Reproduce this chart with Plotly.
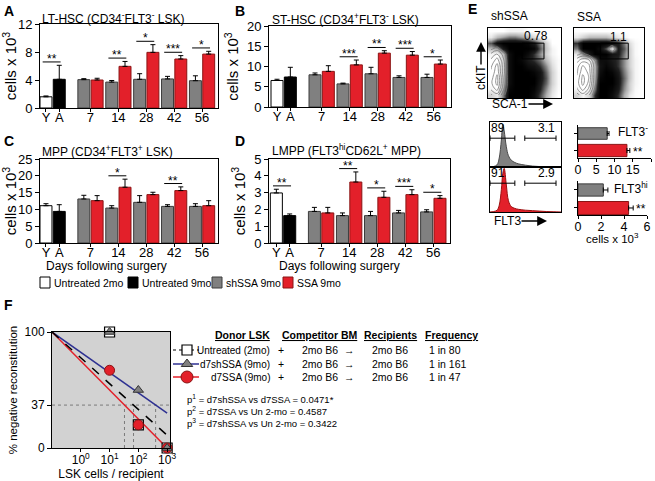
import plotly.graph_objects as go

W, H = 655, 481

# ---------------- data ----------------
ctrl_labels = ["Y", "A"]
day_labels = ["7", "14", "28", "42", "56"]

# A: LT-HSC
lt_ctrl = [1.6, 4.1]
lt_ctrl_err = [0.12, 2.0]
lt_sh = [4.05, 3.7, 4.1, 4.15, 3.9]
lt_sh_err = [0.14, 0.23, 0.8, 0.37, 0.7]
lt_ssa = [4.0, 5.95, 7.95, 7.0, 7.7]
lt_ssa_err = [0.25, 0.7, 1.1, 0.48, 0.4]
lt_stars = ["**", "**", "*", "***", "*"]
lt_star_pairs = ["YA", "14", "28", "42", "56"]

# B: ST-HSC
st_ctrl = [6.55, 7.4]
st_ctrl_err = [0.3, 2.4]
st_sh = [7.95, 5.7, 8.2, 7.3, 7.3]
st_sh_err = [0.45, 0.2, 1.6, 0.4, 0.8]
st_ssa = [8.8, 10.4, 13.3, 12.8, 10.6]
st_ssa_err = [1.4, 1.2, 0.6, 0.9, 1.0]
st_stars = ["***", "**", "***", "*"]
st_star_pairs = ["14", "28", "42", "56"]

# C: MPP
mpp_ctrl = [11.1, 9.4]
mpp_ctrl_err = [0.6, 2.0]
mpp_sh = [13.1, 10.4, 12.1, 10.9, 10.9]
mpp_sh_err = [1.1, 0.7, 2.0, 0.5, 0.8]
mpp_ssa = [12.6, 16.6, 14.4, 15.6, 11.1]
mpp_ssa_err = [1.5, 2.4, 0.7, 1.1, 1.5]
mpp_stars = ["*", "**"]
mpp_star_pairs = ["14", "42"]

# D: LMPP
lmpp_ctrl = [2.98, 1.63]
lmpp_ctrl_err = [0.22, 0.1]
lmpp_sh = [1.88, 1.63, 1.63, 1.79, 1.85]
lmpp_sh_err = [0.24, 0.16, 0.25, 0.15, 0.13]
lmpp_ssa = [1.79, 3.63, 2.72, 2.88, 2.66]
lmpp_ssa_err = [0.33, 0.6, 0.36, 0.29, 0.16]
lmpp_stars = ["**", "**", "*", "***", "*"]
lmpp_star_pairs = ["YA", "14", "28", "42", "56"]

# E: flow density of outlier dots (rows listed top -> bottom, columns left -> right)
shssa_density = [
    [0, 0, 0, 0.05, 0.05, 0.05, 0, 0, 0, 0, 0, 0],
    [0.1, 0.3, 0.4, 0.5, 0.5, 0.4, 0.3, 0.15, 0.05, 0, 0, 0],
    [0.6, 0.9, 1, 1, 1, 1, 0.95, 0.8, 0.5, 0.2, 0, 0],
    [0.3, 0.4, 0.8, 1, 1, 1, 1, 0.95, 0.6, 0.25, 0.05, 0],
    [0.05, 0, 0.3, 0.9, 1, 1, 0.9, 0.7, 0.45, 0.2, 0.05, 0],
    [0, 0, 0.2, 0.9, 1, 0.95, 0.8, 0.7, 0.55, 0.3, 0.1, 0.02],
    [0, 0, 0.2, 0.9, 1, 1, 0.9, 0.85, 0.7, 0.45, 0.15, 0.02],
    [0, 0, 0.2, 0.9, 1, 1, 1, 0.95, 0.85, 0.55, 0.2, 0.03],
    [0, 0, 0.25, 0.9, 1, 1, 1, 1, 0.85, 0.6, 0.2, 0.03],
    [0, 0, 0.3, 0.9, 1, 1, 1, 1, 0.8, 0.55, 0.2, 0.03],
    [0.05, 0, 0.4, 0.95, 1, 1, 1, 0.95, 0.75, 0.45, 0.15, 0.02],
    [0.2, 0.1, 0.5, 1, 1, 1, 1, 0.9, 0.65, 0.35, 0.1, 0],
]
ssa_density = [
    [0, 0, 0, 0, 0, 0, 0, 0, 0, 0, 0, 0],
    [0.1, 0.2, 0.3, 0.3, 0.3, 0.3, 0.2, 0.1, 0.05, 0, 0, 0],
    [0.7, 1, 1, 1, 1, 1, 0.95, 0.8, 0.5, 0.15, 0.03, 0],
    [0.5, 1, 1, 1, 0.9, 0.6, 0.1, 0.8, 0.6, 0.2, 0.03, 0],
    [0.1, 0.5, 0.8, 1, 1, 1, 0.85, 0.8, 0.5, 0.2, 0.03, 0],
    [0, 0, 0.05, 0.4, 0.9, 0.9, 0.8, 0.7, 0.45, 0.2, 0.05, 0],
    [0, 0, 0, 0.3, 0.85, 0.95, 0.85, 0.7, 0.45, 0.2, 0.05, 0],
    [0, 0, 0, 0.3, 0.9, 1, 0.95, 0.8, 0.5, 0.25, 0.05, 0],
    [0, 0, 0, 0.35, 0.95, 1, 1, 0.85, 0.55, 0.25, 0.05, 0],
    [0, 0, 0, 0.4, 1, 1, 1, 0.85, 0.5, 0.2, 0.05, 0],
    [0.05, 0, 0.05, 0.5, 1, 1, 0.95, 0.8, 0.45, 0.2, 0.03, 0],
    [0.2, 0.05, 0.2, 0.7, 1, 1, 0.9, 0.7, 0.35, 0.1, 0.02, 0],
]
# dense (contoured) core populations, same grid
shssa_core = [
    [0, 0, 0, 0, 0, 0, 0, 0, 0, 0, 0, 0],
    [0, 0, 0, 0, 0, 0, 0, 0, 0, 0, 0, 0],
    [0, 0, 0, 0, 0, 0, 0, 0, 0, 0, 0, 0],
    [0.1, 0.2, 0.05, 0, 0, 0, 0, 0, 0, 0, 0, 0],
    [0.35, 0.5, 0.25, 0, 0, 0, 0, 0, 0, 0, 0, 0],
    [0.5, 0.7, 0.35, 0, 0, 0, 0, 0, 0, 0, 0, 0],
    [0.6, 0.85, 0.4, 0, 0, 0, 0, 0, 0, 0, 0, 0],
    [0.65, 0.9, 0.4, 0, 0, 0, 0, 0, 0, 0, 0, 0],
    [0.7, 1.0, 0.45, 0, 0, 0, 0, 0, 0, 0, 0, 0],
    [0.75, 1.0, 0.45, 0, 0, 0, 0, 0, 0, 0, 0, 0],
    [0.65, 0.85, 0.35, 0, 0, 0, 0, 0, 0, 0, 0, 0],
    [0.45, 0.55, 0.2, 0, 0, 0, 0, 0, 0, 0, 0, 0],
]
ssa_core = [
    [0, 0, 0, 0, 0, 0, 0, 0, 0, 0, 0, 0],
    [0, 0, 0, 0, 0, 0, 0, 0, 0, 0, 0, 0],
    [0, 0, 0, 0, 0, 0, 0, 0, 0, 0, 0, 0],
    [0, 0, 0, 0, 0, 0, 0.3, 0, 0, 0, 0, 0],
    [0.1, 0.2, 0.1, 0, 0, 0, 0, 0, 0, 0, 0, 0],
    [0.4, 0.55, 0.5, 0.15, 0, 0, 0, 0, 0, 0, 0, 0],
    [0.55, 0.8, 0.7, 0.25, 0, 0, 0, 0, 0, 0, 0, 0],
    [0.6, 0.9, 0.75, 0.25, 0, 0, 0, 0, 0, 0, 0, 0],
    [0.65, 1.0, 0.8, 0.25, 0, 0, 0, 0, 0, 0, 0, 0],
    [0.7, 1.0, 0.75, 0.2, 0, 0, 0, 0, 0, 0, 0, 0],
    [0.6, 0.85, 0.6, 0.15, 0, 0, 0, 0, 0, 0, 0, 0],
    [0.4, 0.55, 0.35, 0.05, 0, 0, 0, 0, 0, 0, 0, 0],
]
lsk_gate_pct = ["0.78", "1.1"]

# E: FLT3 histograms
flt3_x = [0, 5, 10, 13, 16, 18, 20, 23, 26, 30, 35, 40, 50, 60, 70, 80, 90, 100]
flt3_shssa = [0, 1, 5, 20, 60, 95, 80, 45, 25, 15, 10, 7, 4, 2, 1, 0.5, 0, 0]
flt3_ssa = [0, 1, 4, 15, 50, 85, 97, 60, 25, 12, 8, 6, 4, 3, 2, 1, 0.5, 0]
flt3_gate_pct = [["89", "3.1"], ["91", "2.9"]]

# E: FLT3 subset counts (cells x 10^3)
flt3neg_vals = [8.0, 13.4]
flt3neg_err = [0.5, 0.8]
flt3hi_vals = [2.2, 4.4]
flt3hi_err = [0.4, 0.4]

# F: limiting dilution
lsk_cells = [10, 100, 1000]
untreated_neg = [100, 20, 0]
shssa_neg = [100, 50, 0]
ssa_neg = [67, 20, 0]
fit_x = [0.1, 1000]
untreated_fit = [100, 11]
shssa_fit = [100, 30]
ssa_fit = [100, 0]
cross37_x = [33, 68, 398]
ref_level = 37
donor_labels = ["Untreated (2mo)", "d7shSSA (9mo)", "d7SSA (9mo)"]
frequencies = ["1 in 80", "1 in 161", "1 in 47"]
p_lines = ["p<sup>1</sup> = d7shSSA vs d7SSA = 0.0471*",
           "p<sup>2</sup> = d7SSA vs Un 2-mo = 0.4587",
           "p<sup>3</sup> = d7shSSA vs Un 2-mo = 0.3422"]

# ---------------- styling ----------------
FONT = "Liberation Sans, Arial, sans-serif"
GRAY = "#808080"
GRAY_LINE = "#3c3c3c"
RED = "#e3202a"
RED_LINE = "#8a1414"
NAVY = "#2e3192"


def px(x):
    return x / W


def py(y):
    return 1 - y / H


fig = go.Figure()
layout = dict(template="none", width=W, height=H, margin=dict(l=0, r=0, t=0, b=0, autoexpand=False),
              paper_bgcolor="white", plot_bgcolor="rgba(0,0,0,0)",
              showlegend=False, barmode="overlay",
              font=dict(family=FONT, color="black", size=12))
annotations = []
shapes = []


def ax_names(n):
    k = "" if n == 1 else str(n)
    return "x" + k, "y" + k, "xaxis" + k, "yaxis" + k


def set_axes(n, x0, x1, y0, y1, xa, ya):
    xr, yr, xk, yk = ax_names(n)
    layout[xk] = dict(domain=[px(x0), px(x1)], anchor=yr, showgrid=False, zeroline=False,
                      automargin=False, **xa)
    layout[yk] = dict(domain=[py(y1), py(y0)], anchor=xr, showgrid=False, zeroline=False,
                      automargin=False, **ya)


def text(x, y, s, size=12, xanchor="left", yanchor="middle", bold=False, angle=0):
    if bold:
        s = "<b>" + s + "</b>"
    annotations.append(dict(x=px(x), y=py(y), xref="paper", yref="paper", text=s, showarrow=False,
                            xanchor=xanchor, yanchor=yanchor, textangle=angle,
                            font=dict(size=size, family=FONT, color="black")))


def arrow(x0, y0, x1, y1):
    annotations.append(dict(x=px(x1), y=py(y1), xref="paper", yref="paper", text="",
                            showarrow=True, ax=x0 - x1, ay=y0 - y1, axref="pixel", ayref="pixel",
                            arrowhead=2, arrowsize=1.4, arrowwidth=1.4, arrowcolor="black"))


CENTERS = [3.35, 5.45, 7.55, 9.65, 11.75]


def eb(arr):
    return dict(type="data", array=arr, arrayminus=[0] * len(arr), symmetric=False,
                color="black", thickness=1, width=2.5)


def bar_panel(n, box, ctrl, ctrl_err, sh, sh_err, ssa, ssa_err, stars, pairs, ymax, dtick, xrange):
    xr, yr, _, _ = ax_names(n)
    common = dict(xaxis=xr, yaxis=yr, width=0.9)
    fig.add_trace(go.Bar(x=[0], y=[ctrl[0]], error_y=eb([ctrl_err[0]]),
                         marker=dict(color="white", line=dict(color="black", width=1)), **common))
    fig.add_trace(go.Bar(x=[1], y=[ctrl[1]], error_y=eb([ctrl_err[1]]),
                         marker=dict(color="black", line=dict(color="black", width=1)), **common))
    fig.add_trace(go.Bar(x=[c - 0.5 for c in CENTERS], y=sh, error_y=eb(sh_err),
                         marker=dict(color=GRAY, line=dict(color=GRAY_LINE, width=1)), **common))
    fig.add_trace(go.Bar(x=[c + 0.5 for c in CENTERS], y=ssa, error_y=eb(ssa_err),
                         marker=dict(color=RED, line=dict(color=RED_LINE, width=1)), **common))
    for s, p in zip(stars, pairs):
        if p == "YA":
            xl, xrr = 0, 1
            top = max(ctrl[0] + ctrl_err[0], ctrl[1] + ctrl_err[1])
        else:
            i = day_labels.index(p)
            xl, xrr = CENTERS[i] - 0.5, CENTERS[i] + 0.5
            top = max(sh[i] + sh_err[i], ssa[i] + ssa_err[i])
        yl = top + 0.04 * ymax
        shapes.append(dict(type="line", xref=xr, yref=yr, x0=xl - 0.25, x1=xrr + 0.1, y0=yl, y1=yl,
                           line=dict(color="black", width=1)))
        annotations.append(dict(x=(xl + xrr) / 2 - 0.07, y=yl, xref=xr, yref=yr, text=s, showarrow=False,
                                yanchor="bottom", yshift=-6, font=dict(size=12, family=FONT)))
    set_axes(n, *box,
             dict(range=xrange, tickvals=[0, 1] + CENTERS, ticktext=ctrl_labels + day_labels,
                  showline=True, mirror=True, linecolor="black", linewidth=1,
                  ticks="outside", ticklen=3, tickcolor="black", tickfont=dict(size=13),
                  ticklabelstandoff=-6),
             dict(range=[0, ymax], dtick=dtick, showline=True, mirror=True, linecolor="black",
                  linewidth=1, ticks="outside", ticklen=4, tickcolor="black", tickfont=dict(size=13),
                  title=dict(text="cells x 10<sup>3</sup>", font=dict(size=15), standoff=4)))


bar_panel(1, (40, 218, 24, 108), lt_ctrl, lt_ctrl_err, lt_sh, lt_sh_err, lt_ssa, lt_ssa_err,
          lt_stars, lt_star_pairs, 12, 4, [-0.45, 12.95])
bar_panel(2, (269, 451, 26, 107), st_ctrl, st_ctrl_err, st_sh, st_sh_err, st_ssa, st_ssa_err,
          st_stars, st_star_pairs, 20, 5, [-0.6, 13.05])
bar_panel(3, (40, 218, 159, 243), mpp_ctrl, mpp_ctrl_err, mpp_sh, mpp_sh_err, mpp_ssa, mpp_ssa_err,
          mpp_stars, mpp_star_pairs, 25, 5, [-0.45, 12.95])
bar_panel(4, (269, 450, 159, 243), lmpp_ctrl, lmpp_ctrl_err, lmpp_sh, lmpp_sh_err, lmpp_ssa, lmpp_ssa_err,
          lmpp_stars, lmpp_star_pairs, 5, 1, [-0.55, 13.0])

text(2, 11, "A", 14, bold=True)
text(233, 11, "B", 14, bold=True)
text(2, 141, "C", 14, bold=True)
text(233, 141, "D", 14, bold=True)
text(466, 9, "E", 14, bold=True)
text(2, 305, "F", 14, bold=True)

text(40, 18, "LT-HSC (CD34<sup>-</sup>FLT3<sup>-</sup> LSK)", 12)
text(270, 19, "ST-HSC (CD34<sup>+</sup>FLT3<sup>-</sup> LSK)", 12)
text(40, 151, "MPP (CD34<sup>+</sup>FLT3<sup>+</sup> LSK)", 12)
text(270, 150, "LMPP (FLT3<sup>hi</sup>CD62L<sup>+</sup> MPP)", 12)
text(107, 265.5, "Days following surgery", 12, xanchor="center")
text(339, 265.5, "Days following surgery", 12, xanchor="center")

# bottom legend for A-D
leg_items = [("Untreated 2mo", "white", "black", 40), ("Untreated 9mo", "black", "black", 128),
             ("shSSA 9mo", GRAY, GRAY_LINE, 212), ("SSA 9mo", RED, RED_LINE, 283)]
for lab, fc, lc, x0 in leg_items:
    shapes.append(dict(type="rect", xref="paper", yref="paper", x0=px(x0), x1=px(x0 + 10),
                       y0=py(288), y1=py(277), fillcolor=fc, line=dict(color=lc, width=1)))
    text(x0 + 12, 283, lab, 10.5)

# ---------------- E: flow plots ----------------
for n, dens, core, box, gate, lbl, lblpos in [
        (5, shssa_density, shssa_core, (488, 561, 28, 98), (5.1, 8.7, 6.2, 8.9), lsk_gate_pct[0], (536, 36)),
        (6, ssa_density, ssa_core, (574, 644, 28, 98), (4.0, 8.8, 6.2, 8.9), lsk_gate_pct[1], (618, 37))]:
    xr, yr, _, _ = ax_names(n)
    fig.add_trace(go.Heatmap(z=dens[::-1], colorscale=[[0, "white"], [0.35, "#b0b0b0"], [0.75, "#202020"], [1, "black"]],
                             zmin=0, zmax=1, showscale=False, zsmooth="best", xaxis=xr, yaxis=yr,
                             hoverinfo="skip"))
    fig.add_trace(go.Contour(z=core[::-1], showscale=False, xaxis=xr, yaxis=yr, hoverinfo="skip",
                             contours=dict(coloring="none", start=0.15, end=0.95, size=0.16),
                             line=dict(color="#7a7a7a", width=0.8, smoothing=1.3)))
    set_axes(n, *box,
             dict(range=[-0.5, 11.5], showticklabels=False, showline=True, mirror=True,
                  linecolor="black", linewidth=1, ticks=""),
             dict(range=[-0.5, 11.5], showticklabels=False, showline=True, mirror=True,
                  linecolor="black", linewidth=1, ticks=""))
    shapes.append(dict(type="rect", xref=xr, yref=yr, x0=gate[0], x1=gate[1], y0=gate[2], y1=gate[3],
                       line=dict(color="black", width=1), fillcolor="rgba(0,0,0,0)"))
    text(lblpos[0], lblpos[1], lbl, 12, xanchor="center")

text(489, 16, "shSSA", 12)
text(575, 17, "SSA", 12)
text(481, 78, "cKIT", 12, xanchor="center", angle=-90)
arrow(481, 66, 481, 42)
text(490, 104, "SCA-1", 12)
arrow(527, 104, 553, 104)

# histograms
for n, counts, fc, lc, box, gates in [
        (7, flt3_shssa, GRAY, "#4a4a4a", (490, 561, 122, 167), flt3_gate_pct[0]),
        (8, flt3_ssa, RED, "#9a1010", (490, 561, 167, 212), flt3_gate_pct[1])]:
    xr, yr, _, _ = ax_names(n)
    fig.add_trace(go.Scatter(x=flt3_x, y=counts, mode="lines", fill="tozeroy", fillcolor=fc,
                             line=dict(color=lc, width=1, shape="spline"), xaxis=xr, yaxis=yr,
                             hoverinfo="skip"))
    set_axes(n, *box,
             dict(range=[0, 100], showticklabels=False, showline=True, mirror=True,
                  linecolor="black", linewidth=1, ticks=""),
             dict(range=[0, 100], showticklabels=False, showline=True, mirror=True,
                  linecolor="black", linewidth=1, ticks=""))
    for gx0, gx1 in [(0, 35), (49, 93)]:
        shapes.append(dict(type="line", xref=xr, yref=yr, x0=gx0, x1=gx1, y0=64, y1=64,
                           line=dict(color="black", width=1)))
        for gx in (gx0, gx1):
            shapes.append(dict(type="line", xref=xr, yref=yr, x0=gx, x1=gx, y0=58, y1=70,
                               line=dict(color="black", width=1)))
    annotations.append(dict(x=11, y=66, xref=xr, yref=yr, text=gates[0], showarrow=False,
                            yanchor="bottom", font=dict(size=12, family=FONT)))
    annotations.append(dict(x=80, y=66, xref=xr, yref=yr, text=gates[1], showarrow=False,
                            yanchor="bottom", font=dict(size=12, family=FONT)))

text(492, 221, "FLT3", 12)
arrow(520, 221, 547, 221)

# E subset bar charts
for n, vals, errs, box, xmax, dt, lab, laby, yrange in [
        (9, flt3neg_vals, flt3neg_err, (578, 651, 125, 158), 20, 5, "FLT3<sup>-</sup>", 131, [-0.44, 1.5]),
        (10, flt3hi_vals, flt3hi_err, (578, 647, 181, 215), 6, 2, "FLT3<sup>hi</sup>", 188, [-0.39, 1.5])]:
    xr, yr, _, _ = ax_names(n)
    fig.add_trace(go.Bar(x=[vals[0]], y=[1], orientation="h", width=0.68, error_x=eb([errs[0]]),
                         marker=dict(color=GRAY, line=dict(color=GRAY_LINE, width=1)), xaxis=xr, yaxis=yr))
    fig.add_trace(go.Bar(x=[vals[1]], y=[0], orientation="h", width=0.72, error_x=eb([errs[1]]),
                         marker=dict(color=RED, line=dict(color=RED_LINE, width=1)), xaxis=xr, yaxis=yr))
    annotations.append(dict(x=vals[1] + errs[1], y=0, xref=xr, yref=yr, text="**", showarrow=False,
                            xanchor="left", xshift=1, yshift=-1, font=dict(size=12, family=FONT)))
    set_axes(n, *box,
             dict(range=[0, xmax], dtick=dt, showline=True, linecolor="black", linewidth=1,
                  ticks="outside", ticklen=3, tickcolor="black", tickfont=dict(size=12.5),
                  ticklabelstandoff=-3),
             dict(range=yrange, tickvals=[0, 1], showticklabels=False, showline=True,
                  linecolor="black", linewidth=1, ticks="outside", ticklen=3, tickcolor="black"))
    text(650, laby, lab, 12, xanchor="right")
text(612, 238, "cells x 10<sup>3</sup>", 11.5, xanchor="center")

# ---------------- F: limiting dilution ----------------
xr, yr, _, _ = ax_names(11)
shapes.append(dict(type="rect", xref="x11 domain", yref="y11 domain", x0=0, x1=1, y0=0, y1=1,
                   fillcolor="#d2d2d2", line=dict(width=0), layer="below"))
fig.add_trace(go.Scatter(x=[fit_x[0], 1260], y=[ref_level, ref_level], mode="lines",
                         line=dict(color="#7a7a7a", width=1, dash="dot"), xaxis=xr, yaxis=yr))
for cx in cross37_x:
    fig.add_trace(go.Scatter(x=[cx, cx], y=[0, ref_level], mode="lines",
                             line=dict(color="#7a7a7a", width=1, dash="dot"), xaxis=xr, yaxis=yr))
fig.add_trace(go.Scatter(x=fit_x, y=shssa_fit, mode="lines", line=dict(color=NAVY, width=1.5),
                         xaxis=xr, yaxis=yr))
fig.add_trace(go.Scatter(x=fit_x, y=ssa_fit, mode="lines", line=dict(color=RED, width=1.5),
                         xaxis=xr, yaxis=yr))
fig.add_trace(go.Scatter(x=fit_x, y=untreated_fit, mode="lines",
                         line=dict(color="black", width=1.5, dash="dash"), xaxis=xr, yaxis=yr))
fig.add_trace(go.Scatter(x=lsk_cells, y=untreated_neg, mode="markers", cliponaxis=False,
                         marker=dict(symbol="square", size=10, color="white", line=dict(color="black", width=1.2)),
                         xaxis=xr, yaxis=yr))
fig.add_trace(go.Scatter(x=lsk_cells, y=ssa_neg, mode="markers", cliponaxis=False,
                         marker=dict(symbol="circle", size=10, color=RED, line=dict(color=RED_LINE, width=1)),
                         xaxis=xr, yaxis=yr))
fig.add_trace(go.Scatter(x=lsk_cells, y=shssa_neg, mode="markers", cliponaxis=False,
                         marker=dict(symbol="triangle-up", size=9, color=GRAY, line=dict(color="#333", width=1)),
                         xaxis=xr, yaxis=yr))
set_axes(11, 52, 170, 332, 448,
         dict(type="log", range=[-1, 3.1], tickvals=[1, 10, 100, 1000],
              ticktext=["10<sup>0</sup>", "10<sup>1</sup>", "10<sup>2</sup>", "10<sup>3</sup>"],
              showline=True, mirror=True, linecolor="black", linewidth=1, ticks="outside", ticklen=3,
              tickcolor="black", tickfont=dict(size=12), ticklabelstandoff=-2,
              title=dict(text="LSK cells / recipient", font=dict(size=12), standoff=9)),
         dict(range=[0, 100], tickvals=[0, ref_level, 100], showline=True, mirror=True, linecolor="black",
              linewidth=1, ticks="outside", ticklen=4, tickcolor="black", tickfont=dict(size=12),
              title=dict(text="% negative reconstitution", font=dict(size=11.5), standoff=4)))

# F legend table (glyphs drawn on an overlay pixel axis)
xr12, yr12, _, _ = ax_names(12)
layout["xaxis12"] = dict(domain=[0, 1], range=[0, W], visible=False, anchor="y12", fixedrange=True,
                         automargin=False)
layout["yaxis12"] = dict(domain=[0, 1], range=[H, 0], visible=False, anchor="x12", fixedrange=True,
                         automargin=False)
row_y = [350, 364, 377]
glyphs = [(dict(color="black", width=1.2, dash="dot"), dict(symbol="square", size=10, color="white", line=dict(color="black", width=1.2)), 187),
          (dict(color=NAVY, width=1.5), dict(symbol="triangle-up", size=10, color=GRAY, line=dict(color="#333", width=1)), 187),
          (dict(color=RED, width=1.5), dict(symbol="circle", size=12, color=RED, line=dict(color=RED_LINE, width=1)), 187)]
for (ln, mk, mx), ry in zip(glyphs, row_y):
    fig.add_trace(go.Scatter(x=[173, 199], y=[ry, ry], mode="lines", line=ln, xaxis=xr12, yaxis=yr12,
                             hoverinfo="skip"))
    fig.add_trace(go.Scatter(x=[mx], y=[ry], mode="markers", marker=mk, xaxis=xr12, yaxis=yr12,
                             hoverinfo="skip"))

text(213, 335, "<u>Donor LSK</u>", 10.5, bold=True)
text(280, 335, "<u>Competitor BM</u>", 10.5, bold=True)
text(362, 335, "<u>Recipients</u>", 10.5, bold=True)
text(423, 335, "<u>Frequency</u>", 10.5, bold=True)
for lab, fr, ry in zip(donor_labels, frequencies, row_y):
    text(272, ry, lab, 10, xanchor="right")
    text(276, ry, "+", 10.5)
    text(300, ry, "2mo B6  \u2192", 10.5)
    text(370, ry, "2mo B6", 10.5)
    text(427, ry, fr, 10.5)
for s, ry in zip(p_lines, [399, 411, 423]):
    text(185, ry, s, 9.5)

layout["annotations"] = annotations
layout["shapes"] = shapes
fig.update_layout(**layout)
fig.write_html("out.html", config={"displayModeBar": False},
               post_script="document.body.style.margin='0px';")
